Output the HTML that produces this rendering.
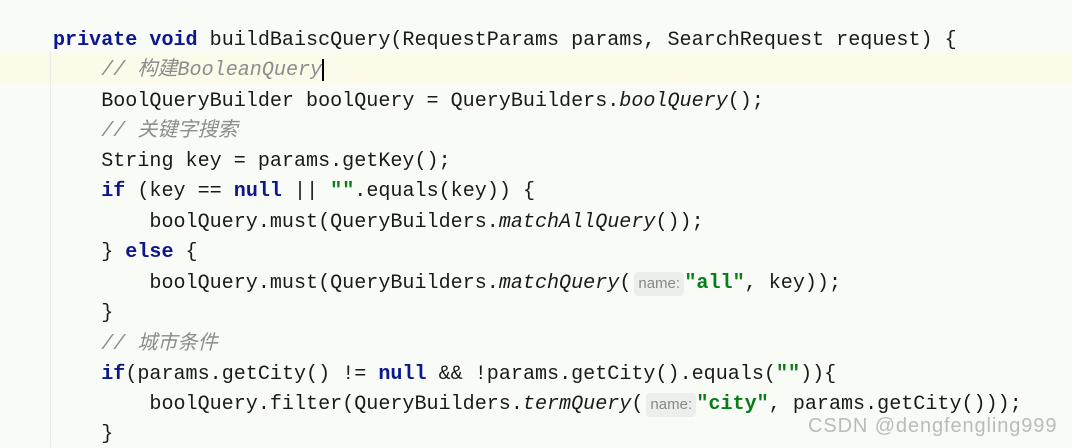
<!DOCTYPE html>
<html><head><meta charset="utf-8"><style>
body{margin:0;width:1072px;height:447px;background:#f8fbf6;overflow:hidden;position:relative;font-family:"Liberation Mono","Noto Sans CJK SC",monospace;}
.hl{position:absolute;left:0;top:54px;width:1072px;height:30px;background:#fcfbe9;}
.l{position:absolute;left:53px;font-size:20.08px;line-height:26px;white-space:pre;color:#1a1a1a;}
.k{color:#0b168f;font-weight:bold;}
.c{color:#8c8c8c;font-style:italic;}
.i{font-style:italic;}
.s{color:#067d17;font-weight:bold;}
.h{display:inline-block;width:53px;position:relative;vertical-align:top;}
.h span{position:absolute;left:3px;top:1px;height:24px;padding:0 4px;background:#ebeeea;border-radius:4px;font-family:"Liberation Sans",sans-serif;font-size:15px;line-height:24px;color:#888;font-style:normal;font-weight:normal;}
.cur{display:inline-block;width:2px;height:22px;background:#000;vertical-align:middle;}
.wm{position:absolute;left:808px;top:415px;font-family:"Liberation Sans",sans-serif;font-size:20px;color:#bbb;letter-spacing:0.9px;}
.g{position:absolute;left:50px;top:52px;width:1px;height:395px;background:#ececec;}
</style></head><body>
<div class="hl"></div>
<div class="g"></div>
<div class="l" style="top:28px"><span class="k">private void</span> buildBaiscQuery(RequestParams params, SearchRequest request) {</div>
<div class="l" style="top:58px">    <span class="c">// 构建BooleanQuery</span><span class="cur"></span></div>
<div class="l" style="top:89px">    BoolQueryBuilder boolQuery = QueryBuilders.<span class="i">boolQuery</span>();</div>
<div class="l" style="top:119px">    <span class="c">// 关键字搜索</span></div>
<div class="l" style="top:149px">    String key = params.getKey();</div>
<div class="l" style="top:179px">    <span class="k">if</span> (key == <span class="k">null</span> || <span class="s">""</span>.equals(key)) {</div>
<div class="l" style="top:210px">        boolQuery.must(QueryBuilders.<span class="i">matchAllQuery</span>());</div>
<div class="l" style="top:240px">    } <span class="k">else</span> {</div>
<div class="l" style="top:271px">        boolQuery.must(QueryBuilders.<span class="i">matchQuery</span>(<span class="h"><span>name:</span></span><span class="s">"all"</span>, key));</div>
<div class="l" style="top:301px">    }</div>
<div class="l" style="top:332px">    <span class="c">// 城市条件</span></div>
<div class="l" style="top:362px">    <span class="k">if</span>(params.getCity() != <span class="k">null</span> &amp;&amp; !params.getCity().equals(<span class="s">""</span>)){</div>
<div class="l" style="top:392px">        boolQuery.filter(QueryBuilders.<span class="i">termQuery</span>(<span class="h"><span>name:</span></span><span class="s">"city"</span>, params.getCity()));</div>
<div class="l" style="top:422px">    }</div>
<div class="wm">CSDN @dengfengling999</div>
</body></html>
